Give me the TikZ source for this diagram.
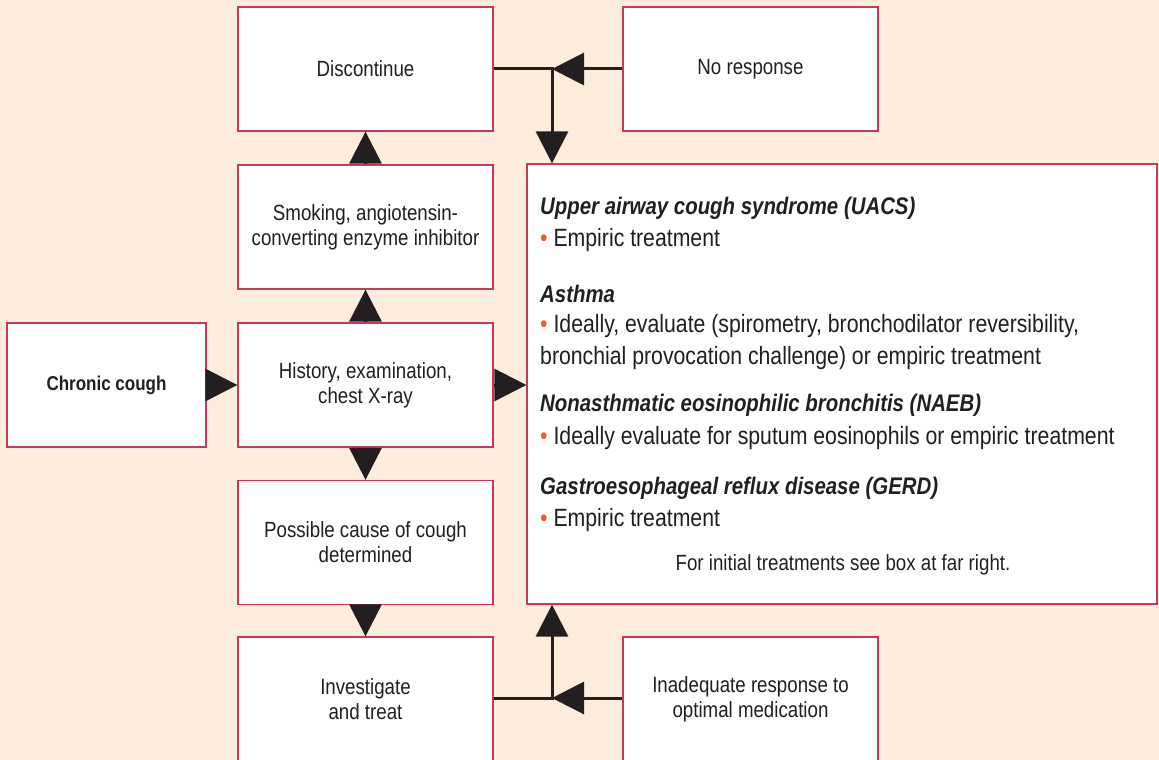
\documentclass[tikz,border=0pt]{standalone}
\usepackage{fontspec}
\setmainfont{Liberation Sans}[FakeStretch=0.85]
\usetikzlibrary{arrows.meta}
\definecolor{bgpeach}{HTML}{FDEBDC}
\definecolor{boxred}{HTML}{C8385A}
\definecolor{bulletor}{HTML}{E8612C}
\definecolor{inkblk}{HTML}{231F20}
\newcommand{\bul}{{\color{bulletor}\textbullet}\ }

\begin{document}
\begin{tikzpicture}[x=1pt, y=-1pt,
    flowbox/.style={draw=boxred, line width=1.3pt, fill=white, minimum width=255pt,
        minimum height=124pt, inner sep=0pt, align=center, text=inkblk,
        font=\fontsize{22}{25}\selectfont},
    tip/.style={-{Triangle[length=32pt,width=32pt]}, line width=3pt, draw=inkblk},
    plain/.style={line width=3pt, draw=inkblk},
    head/.style={anchor=west, inner sep=0pt, text=inkblk,
        font=\fontsize{24}{28}\selectfont\bfseries\itshape},
    item/.style={anchor=west, inner sep=0pt, align=left, text=inkblk,
        font=\fontsize{25}{32}\selectfont}]
    % --- canvas ---
    \useasboundingbox (0,0) rectangle (1159,760);
    \fill[bgpeach] (0,0) rectangle (1159,760);

    % --- flow boxes ---
    \node[flowbox] (discont) at (365.5,69) {Discontinue};
    \node[flowbox] (noresp) at (750.5,69) {No response};
    \node[flowbox] (smoke) at (365.5,227) {Smoking, angiotensin-\\converting enzyme inhibitor};
    \node[flowbox] (hist) at (365.5,385) {History, examination,\\chest X-ray};
    \node[flowbox, minimum width=199pt, font=\fontsize{20}{24}\selectfont\bfseries] (chronic) at (106.5,385) {Chronic cough};
    \node[flowbox] (poss) at (365.5,542.5) {Possible cause of cough\\determined};
    \node[flowbox] (invest) at (365.5,699) {Investigate\\and treat};
    \node[flowbox] (inadeq) at (750.5,699) {Inadequate response to\\optimal medication};
    \node[flowbox, minimum width=630pt, minimum height=440pt] (causes) at (842,384) {};

    % --- causes list ---
    \node[head] (uacs) at (540,208) {Upper airway cough syndrome (UACS)};
    \node[item] (uacsi) at (540,240) {\bul Empiric treatment};
    \node[head] (asth) at (540,294) {Asthma};
    \node[item] (asthi) at (540,342) {\bul Ideally, evaluate (spirometry, bronchodilator reversibility,\\bronchial provocation challenge) or empiric treatment};
    \node[head] (naeb) at (540,405) {Nonasthmatic eosinophilic bronchitis (NAEB)};
    \node[item] (naebi) at (540,438) {\bul Ideally evaluate for sputum eosinophils or empiric treatment};
    \node[head] (gerd) at (540,488) {Gastroesophageal reflux disease (GERD)};
    \node[item] (gerdi) at (540,520) {\bul Empiric treatment};
    \node[text=inkblk, font=\fontsize{22}{26}\selectfont] (farnote) at (843,565) {For initial treatments see box at far right.};

    % --- arrows ---
    \draw[tip] (chronic) -- (hist);
    \draw[tip] (hist.east) -- (causes.west |- hist.east);
    \draw[tip] (hist) -- (smoke);
    \draw[tip] (smoke) -- (discont);
    \draw[tip] (hist) -- (poss);
    \draw[tip] (poss) -- (invest);

    % top junction
    \coordinate (jtop) at (552,69);
    \draw[plain] (discont.east) -- (jtop);
    \draw[tip] (noresp.west) -- (jtop);
    \draw[tip, shorten <=-1.5pt] (jtop) -- (jtop |- causes.north);

    % bottom junction
    \coordinate (jbot) at (552,698);
    \draw[plain] (invest.east |- jbot) -- (jbot);
    \draw[tip] (inadeq.west |- jbot) -- (jbot);
    \draw[tip, shorten <=-1.5pt] (jbot) -- (jbot |- causes.south);
\end{tikzpicture}
\end{document}
